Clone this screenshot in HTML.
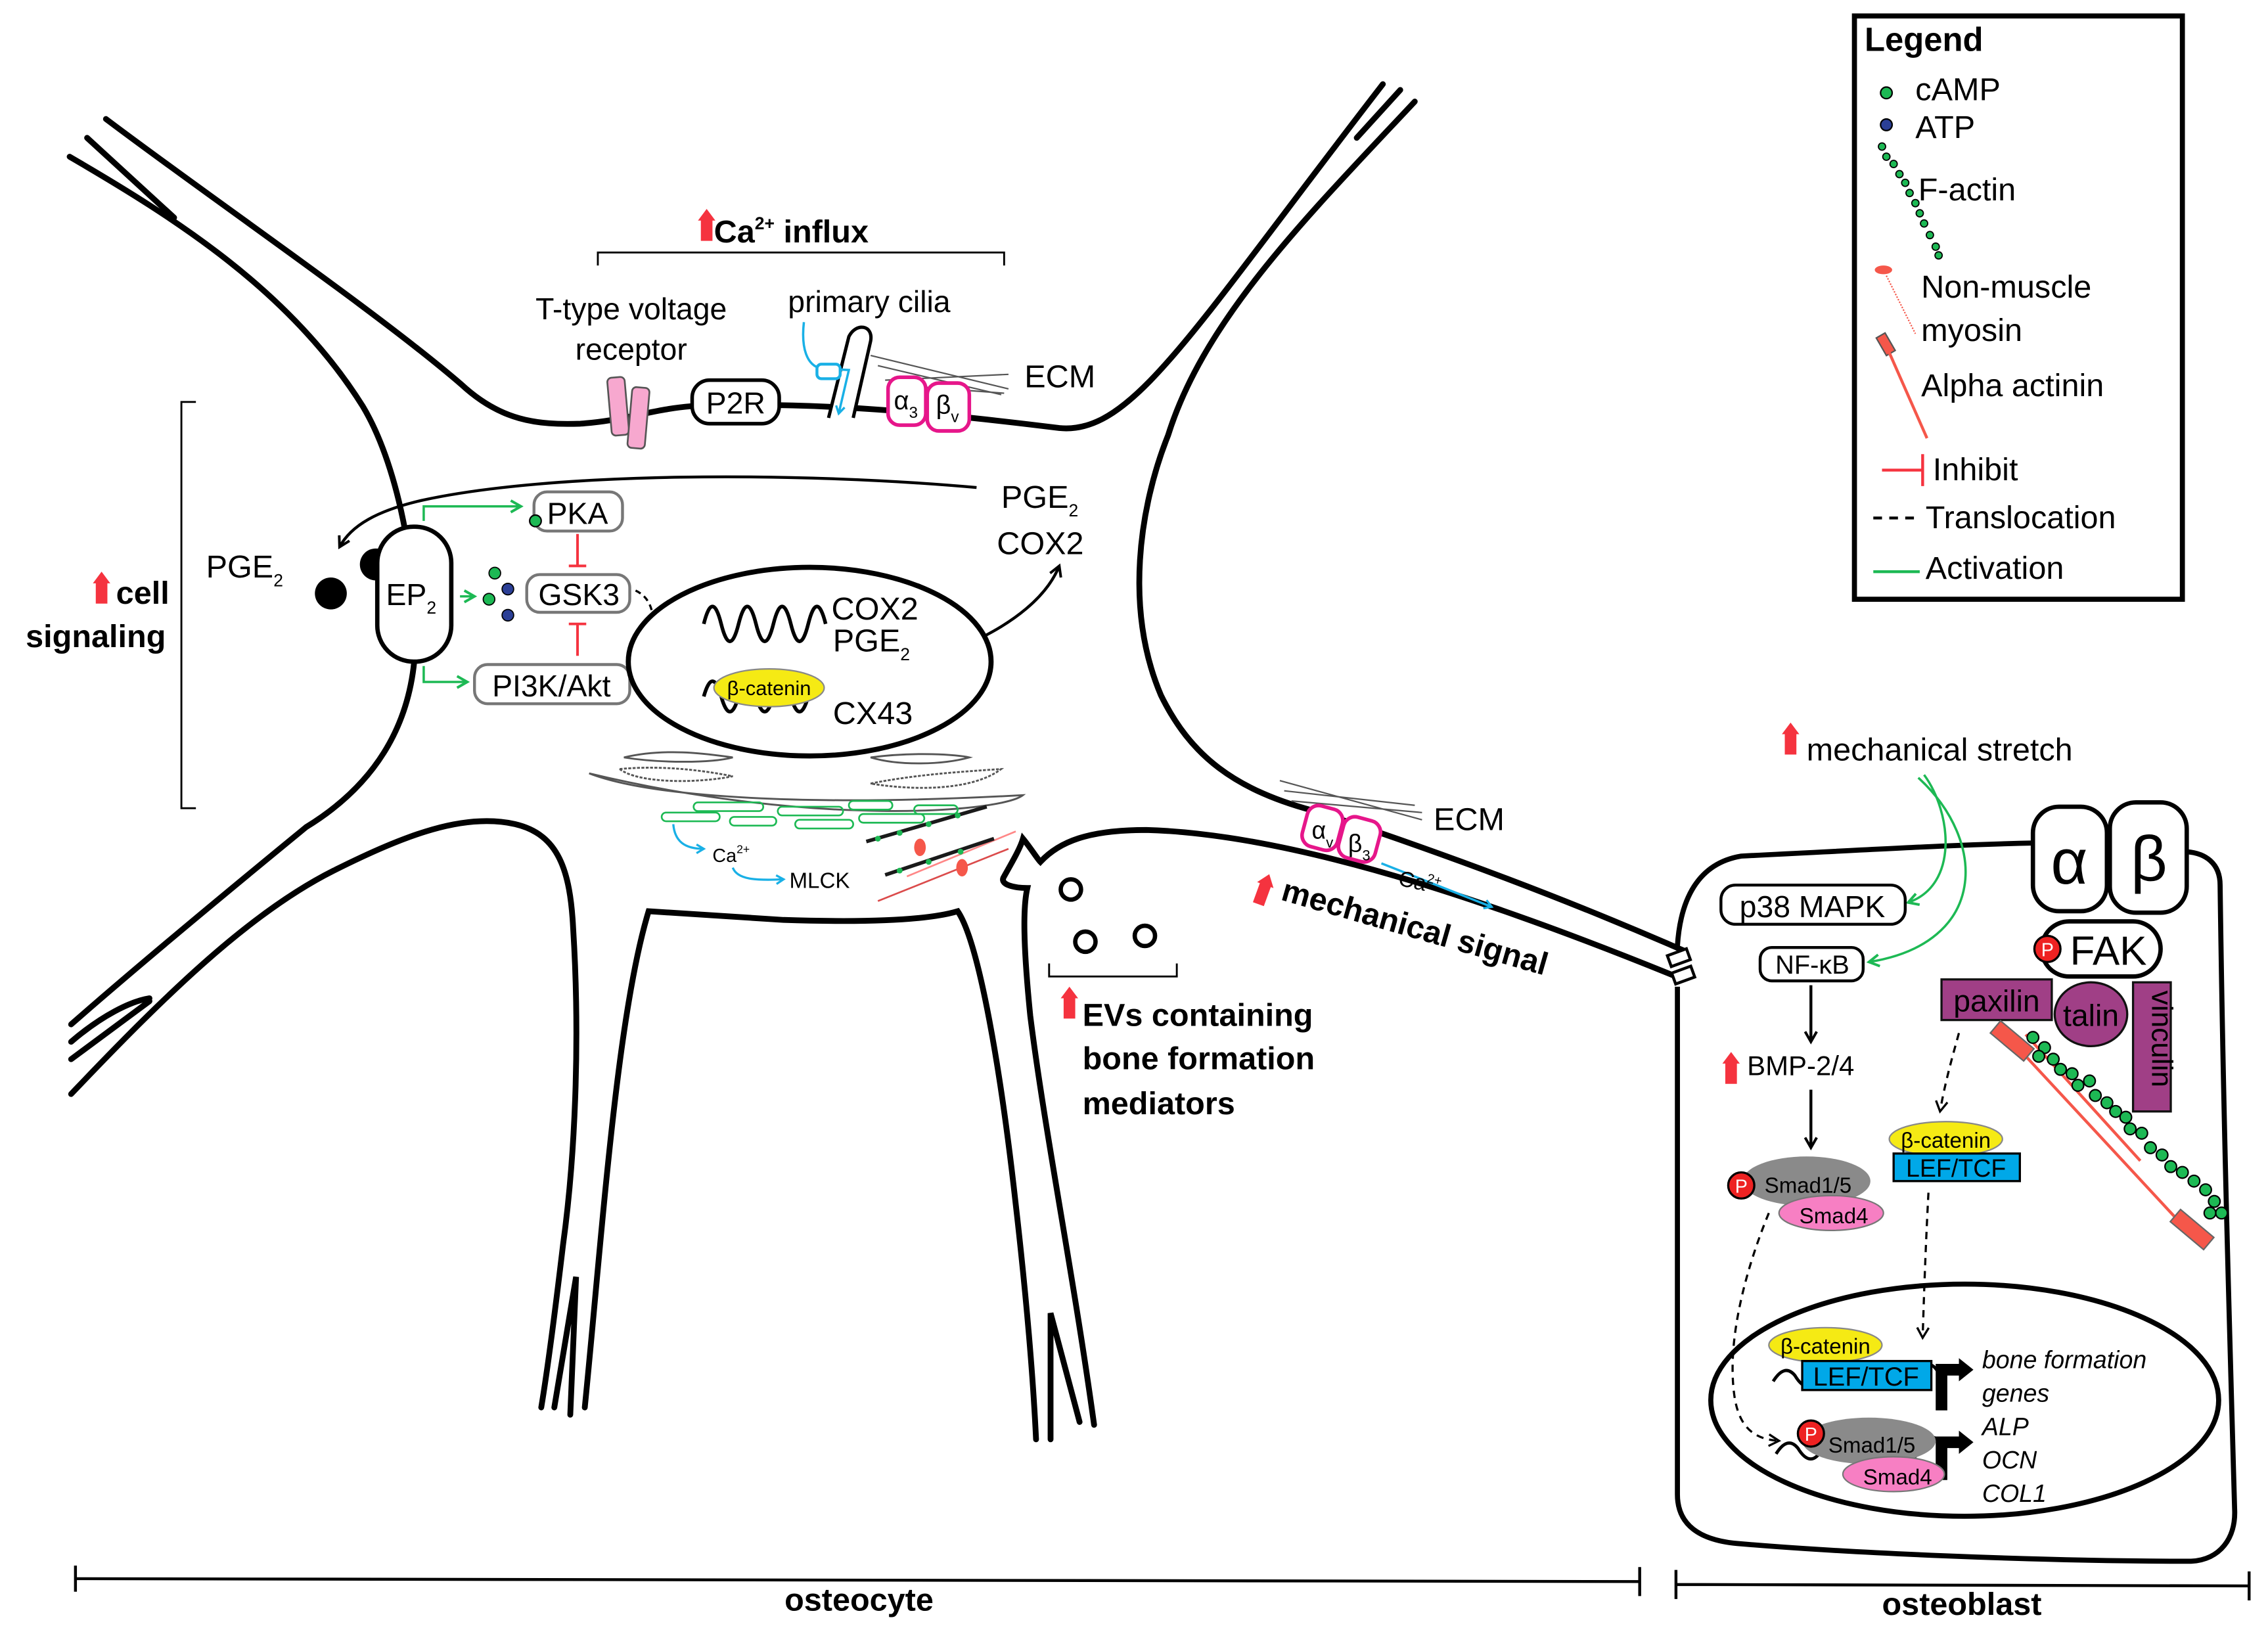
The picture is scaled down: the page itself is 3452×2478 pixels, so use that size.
<!DOCTYPE html>
<html><head><meta charset="utf-8"><style>
html,body{margin:0;padding:0;background:#fff}
svg{display:block}
text{font-family:"Liberation Sans",Arial,sans-serif;fill:#000}
.b{font-weight:bold}
.i{font-style:italic}
</style></head><body>
<svg width="3452" height="2478" viewBox="0 0 1563 1122" xmlns="http://www.w3.org/2000/svg">
<defs>
<marker id="ak" markerWidth="10" markerHeight="10" refX="8" refY="5" orient="auto" markerUnits="userSpaceOnUse"><path d="M1,1 L8,5 L1,9" fill="none" stroke="#000" stroke-width="1.8"/></marker>
<marker id="ag" markerWidth="10" markerHeight="10" refX="8" refY="5" orient="auto" markerUnits="userSpaceOnUse"><path d="M1,1 L8,5 L1,9" fill="none" stroke="#1db954" stroke-width="1.8"/></marker>
<marker id="ab" markerWidth="8" markerHeight="8" refX="6" refY="4" orient="auto" markerUnits="userSpaceOnUse"><path d="M1,1 L6,4 L1,7" fill="none" stroke="#19b0e6" stroke-width="1.5"/></marker>
<marker id="ad" markerWidth="10" markerHeight="10" refX="8" refY="5" orient="auto" markerUnits="userSpaceOnUse"><path d="M1,1 L8,5 L1,9" fill="none" stroke="#000" stroke-width="1.5"/></marker>
<g id="redup"><path d="M-4,14 L-4,0 L-6,0 L0,-8 L6,0 L4,0 L4,14 Z" fill="#f5333f"/></g>
</defs>

<!-- Osteocyte membranes -->
<g fill="none" stroke="#000" stroke-width="4" stroke-linecap="round">
<!-- top-left dendrite & top membrane -->
<path d="M73,82 C150,140 260,215 318,265 C345,290 370,293 400,292 C430,290 450,282 476,280 C560,276 650,285 730,295 C780,300 820,230 953,58"/>
<path d="M48,108 C120,150 200,200 250,280 C280,330 290,420 285,460 C280,500 260,540 211,570 C150,620 90,670 49,706"/>
<path d="M60,95 L120,150"/>
<path d="M49,754 C110,690 170,630 230,600 C280,575 320,560 355,568 C385,575 393,600 395,640 C400,720 396,800 388,858 C383,900 378,940 373,970"/>
<path d="M49,730 L103,690"/><path d="M49,718 C70,700 90,690 103,688"/>
<path d="M382,970 L397,880 L393,975"/>
<path d="M403,970 C415,850 425,700 447,628 L540,634 C600,636 640,634 660,628 C675,650 690,740 700,830 C708,900 712,950 714,992"/>
<path d="M724,992 L724,905 L744,980"/>
<path d="M754,982 C740,880 720,780 710,700 C705,650 705,625 708,612 C700,612 688,610 692,604 C697,595 703,585 705,578 C710,584 715,592 717,594 C730,580 750,572 790,572 C900,575 1050,630 1160,675"/>
<!-- top-right second line and right membrane -->
<path d="M975,70 C900,150 830,220 805,300 C785,350 775,420 800,479 C820,520 850,545 910,560 C1000,590 1080,620 1160,655"/>
<path d="M935,95 L965,62"/>
</g>
<!-- process junction -->
<g fill="#fff" stroke="#000" stroke-width="2"><rect x="1150" y="656" width="14" height="8" transform="rotate(-20 1157 660)"/><rect x="1153" y="668" width="14" height="8" transform="rotate(-20 1160 672)"/></g>

<!-- Ca influx -->
<use href="#redup" x="487" y="152"/>
<text x="492" y="167" class="b" font-size="22">Ca<tspan font-size="12" dy="-9">2+</tspan><tspan dy="9"> influx</tspan></text>
<path d="M412,183 L412,174 L692,174 L692,183" fill="none" stroke="#000" stroke-width="1.3"/>
<text x="435" y="220" font-size="21" text-anchor="middle">T-type voltage</text>
<text x="435" y="248" font-size="21" text-anchor="middle">receptor</text>
<text x="599" y="215" font-size="21" text-anchor="middle">primary cilia</text>
<g fill="#f7a8cf" stroke="#555" stroke-width="1.2"><rect x="420" y="260" width="12" height="40" rx="3" transform="rotate(-5 426 280)"/><rect x="434" y="267" width="12" height="42" rx="3" transform="rotate(5 440 288)"/></g>
<rect x="477" y="262" width="60" height="30" rx="12" fill="#fff" stroke="#000" stroke-width="2.5"/>
<text x="507" y="285" font-size="21" text-anchor="middle">P2R</text>
<path d="M571,288 L585,232 C590,222 602,224 600,235 L588,288" fill="#fff" stroke="#000" stroke-width="2.3"/>
<path d="M554,222 C552,240 556,252 566,254 L585,255 L578,285" fill="none" stroke="#19b0e6" stroke-width="1.6" marker-end="url(#ab)"/>
<rect x="563" y="251" width="16" height="10" rx="3" fill="#fff" stroke="#19b0e6" stroke-width="2"/>
<g stroke="#555" stroke-width="1"><path d="M600,245 L695,268"/><path d="M610,262 L695,258"/><path d="M612,265 L692,271"/><path d="M605,252 L690,272"/></g>
<rect x="612" y="260" width="26" height="33" rx="8" fill="#fff" stroke="#e6168a" stroke-width="2.5"/>
<rect x="639" y="264" width="29" height="33" rx="8" fill="#fff" stroke="#e6168a" stroke-width="2.5"/>
<text x="616" y="282" font-size="18">α<tspan font-size="11" dy="6">3</tspan></text>
<text x="645" y="285" font-size="18">β<tspan font-size="11" dy="6">v</tspan></text>
<text x="706" y="267" font-size="22">ECM</text>

<!-- cell signaling -->
<path d="M135,277 L125,277 L125,557 L135,557" fill="none" stroke="#000" stroke-width="1.3"/>
<use href="#redup" x="70" y="402"/>
<text x="80" y="416" class="b" font-size="22">cell</text>
<text x="66" y="446" class="b" font-size="22" text-anchor="middle">signaling</text>
<text x="142" y="398" font-size="22">PGE<tspan font-size="12" dy="6">2</tspan></text>
<circle cx="228" cy="409" r="11" fill="#000"/>
<circle cx="259" cy="389" r="11" fill="#000"/>
<rect x="260" y="363" width="51" height="93" rx="25" fill="#fff" stroke="#000" stroke-width="3"/>
<text x="266" y="417" font-size="21">EP<tspan font-size="12" dy="6">2</tspan></text>
<path d="M673,336 C550,325 380,325 290,345 C260,352 242,362 234,377" fill="none" stroke="#000" stroke-width="2" marker-end="url(#ak)"/>
<text x="690" y="350" font-size="22">PGE<tspan font-size="12" dy="6">2</tspan></text>
<text x="687" y="382" font-size="22">COX2</text>
<path d="M662,446 C700,430 722,410 730,390" fill="none" stroke="#000" stroke-width="2" marker-end="url(#ak)"/>
<g fill="none" stroke="#1db954" stroke-width="1.6">
<path d="M292,359 L292,349 L359,349" marker-end="url(#ag)"/>
<path d="M292,459 L292,470 L322,470" marker-end="url(#ag)"/>
<path d="M317,411 L327,411" marker-end="url(#ag)"/>
</g>
<rect x="368" y="339" width="61" height="27" rx="9" fill="#fff" stroke="#777" stroke-width="2"/>
<text x="398" y="361" font-size="21" text-anchor="middle">PKA</text>
<circle cx="369" cy="359" r="4" fill="#1db954" stroke="#000" stroke-width="1"/>
<rect x="363" y="396" width="71" height="26" rx="9" fill="#fff" stroke="#777" stroke-width="2"/>
<text x="399" y="417" font-size="21" text-anchor="middle">GSK3</text>
<rect x="327" y="458" width="107" height="27" rx="9" fill="#fff" stroke="#777" stroke-width="2"/>
<text x="380" y="480" font-size="21" text-anchor="middle">PI3K/Akt</text>
<g stroke="#f5333f" stroke-width="1.8"><path d="M398,368 L398,390 M392,390 L404,390"/><path d="M398,452 L398,430 M392,430 L404,430"/></g>
<circle cx="341" cy="395" r="4" fill="#1db954" stroke="#000" stroke-width=".8"/>
<circle cx="337" cy="413" r="4" fill="#1db954" stroke="#000" stroke-width=".8"/>
<circle cx="350" cy="406" r="4" fill="#2b3f96" stroke="#000" stroke-width=".8"/>
<circle cx="350" cy="424" r="4" fill="#2b3f96" stroke="#000" stroke-width=".8"/>
<path d="M438,407 C455,415 448,435 455,450 C460,462 468,466 476,467" fill="none" stroke="#000" stroke-width="1.5" stroke-dasharray="4,3" marker-end="url(#ad)"/>

<!-- osteocyte nucleus -->
<ellipse cx="558" cy="456" rx="125" ry="65" fill="#fff" stroke="#000" stroke-width="3.5"/>
<path d="M485,430 c4,-16 8,-16 12,0 c4,16 8,16 12,0 c4,-16 8,-16 12,0 c4,16 8,16 12,0 c4,-16 8,-16 12,0 c4,16 8,16 12,0 c4,-16 8,-16 12,0" fill="none" stroke="#000" stroke-width="2.5"/>
<path d="M485,480 c4,-14 8,-14 12,0 c4,14 8,14 12,0 c4,-14 8,-14 12,0 c4,14 8,14 12,0 c4,-14 8,-14 12,0 c4,14 8,14 12,0" fill="none" stroke="#000" stroke-width="2.5"/>
<text x="573" y="427" font-size="22">COX2</text>
<text x="574" y="449" font-size="22">PGE<tspan font-size="12" dy="6">2</tspan></text>
<ellipse cx="530" cy="474" rx="38" ry="13" fill="#f5ea14" stroke="#888" stroke-width="1"/>
<text x="530" y="479" font-size="14" text-anchor="middle">β-catenin</text>
<text x="574" y="499" font-size="22">CX43</text>

<!-- organelles -->
<g fill="none" stroke="#555" stroke-width="1.3">
<path d="M430,522 C460,515 490,520 505,522 C490,526 455,526 430,522Z"/>
<path d="M427,530 C460,527 490,532 505,535 C480,540 440,540 427,530Z" stroke-dasharray="2,1"/>
<path d="M406,533 C450,550 560,556 705,548 C690,560 560,570 406,533Z"/>
<path d="M600,522 C630,518 660,520 668,522 C650,527 620,528 600,522Z"/>
<path d="M600,540 C630,534 660,532 690,530 C670,545 630,545 600,540Z" stroke-dasharray="2,1"/>
</g>
<g fill="none" stroke="#1db954" stroke-width="1.2">
<rect x="456" y="560" width="40" height="6" rx="3"/><rect x="478" y="553" width="48" height="6" rx="3"/><rect x="503" y="563" width="32" height="6" rx="3"/>
<rect x="536" y="556" width="45" height="6" rx="3"/><rect x="548" y="565" width="40" height="6" rx="3"/><rect x="585" y="552" width="30" height="6" rx="3"/><rect x="592" y="561" width="45" height="6" rx="3"/><rect x="630" y="555" width="30" height="6" rx="3"/>
</g>
<path d="M464,568 C465,580 472,585 485,585" fill="none" stroke="#19b0e6" stroke-width="1.5" marker-end="url(#ab)"/>
<text x="491" y="594" font-size="13">Ca<tspan font-size="8" dy="-6">2+</tspan></text>
<path d="M505,598 C508,606 520,607 540,606" fill="none" stroke="#19b0e6" stroke-width="1.5" marker-end="url(#ab)"/>
<text x="544" y="612" font-size="15">MLCK</text>
<g stroke="#c00" stroke-width="1.2" opacity=".7"><path d="M605,621 L695,585"/><path d="M625,604 L700,573" stroke="#f55"/></g>
<g stroke="#1a1a1a" stroke-width="2.5"><path d="M597,580 L680,556"/><path d="M610,603 L685,578"/></g>
<g fill="#1db954"><circle cx="605" cy="578" r="2"/><circle cx="620" cy="574" r="2"/><circle cx="640" cy="568" r="2"/><circle cx="660" cy="562" r="2"/><circle cx="620" cy="600" r="2"/><circle cx="640" cy="594" r="2"/><circle cx="662" cy="587" r="2"/></g>
<g fill="#f5574a"><ellipse cx="634" cy="584" rx="4" ry="6"/><ellipse cx="663" cy="598" rx="4" ry="6"/></g>

<!-- EVs -->
<g fill="#fff" stroke="#000" stroke-width="3"><circle cx="738" cy="613" r="7"/><circle cx="748" cy="649" r="7"/><circle cx="789" cy="645" r="7"/></g>
<path d="M723,664 L723,673 L811,673 L811,664" fill="none" stroke="#000" stroke-width="1.3"/>
<use href="#redup" x="737" y="688"/>
<text x="746" y="707" class="b" font-size="22">EVs containing</text>
<text x="746" y="737" class="b" font-size="22">bone formation</text>
<text x="746" y="768" class="b" font-size="22">mediators</text>

<!-- mechanical process -->
<g stroke="#555" stroke-width="1"><path d="M882,538 L980,565"/><path d="M885,545 L975,555"/><path d="M890,552 L980,560"/></g>
<rect x="899" y="556" width="25" height="29" rx="8" fill="#fff" stroke="#e6168a" stroke-width="2.5" transform="rotate(15 911 570)"/>
<rect x="924" y="564" width="26" height="29" rx="8" fill="#fff" stroke="#e6168a" stroke-width="2.5" transform="rotate(15 937 578)"/>
<text x="904" y="578" font-size="17">α<tspan font-size="10" dy="6">v</tspan></text>
<text x="929" y="587" font-size="17">β<tspan font-size="10" dy="6">3</tspan></text>
<text x="988" y="572" font-size="22">ECM</text>
<path d="M952,595 L1028,625" fill="none" stroke="#19b0e6" stroke-width="1.6" marker-end="url(#ab)"/>
<text x="963" y="610" font-size="15" transform="rotate(12 963 610)">Ca<tspan font-size="9" dy="-6">2+</tspan></text>
<g transform="rotate(20 872 610)"><use href="#redup" x="872" y="610"/></g>
<text x="882" y="620" class="b" font-size="22" transform="rotate(16 882 620)">mechanical signal</text>

<!-- Osteoblast -->
<path d="M1156,652 C1158,620 1170,595 1200,590 C1300,585 1350,582 1402,581 M1507,587 C1520,588 1530,595 1530,610 C1532,760 1536,900 1540,1040 C1541,1060 1530,1075 1510,1076 C1400,1076 1270,1070 1200,1064 C1170,1062 1156,1050 1156,1030 L1156,680" fill="none" stroke="#000" stroke-width="3.5"/>
<use href="#redup" x="1234" y="506"/>
<text x="1245" y="524" font-size="22">mechanical stretch</text>
<path d="M1326,534 C1345,560 1350,610 1315,622" fill="none" stroke="#1db954" stroke-width="1.6" marker-end="url(#ag)"/>
<path d="M1322,536 C1370,580 1370,650 1288,663" fill="none" stroke="#1db954" stroke-width="1.6" marker-end="url(#ag)"/>
<rect x="1186" y="610" width="127" height="27" rx="10" fill="#fff" stroke="#000" stroke-width="2"/>
<text x="1249" y="632" font-size="21" text-anchor="middle">p38 MAPK</text>
<rect x="1213" y="653" width="71" height="23" rx="8" fill="#fff" stroke="#000" stroke-width="2"/>
<text x="1249" y="671" font-size="18" text-anchor="middle">NF-κB</text>
<path d="M1248,679 L1248,718" stroke="#000" stroke-width="2" marker-end="url(#ak)"/>
<use href="#redup" x="1193" y="733"/>
<text x="1204" y="741" font-size="19">BMP-2/4</text>
<path d="M1248,751 L1248,791" stroke="#000" stroke-width="2" marker-end="url(#ak)"/>
<ellipse cx="1245" cy="814" rx="44" ry="17" fill="#8a8a8a"/>
<ellipse cx="1262" cy="836" rx="36" ry="12" fill="#f77fc3" stroke="#777" stroke-width="1"/>
<circle cx="1200" cy="817" r="9" fill="#ee2222" stroke="#000" stroke-width="1.5"/>
<text x="1200" y="822" font-size="13" fill="#fff" text-anchor="middle" style="fill:#fff">P</text>
<text x="1216" y="822" font-size="15">Smad1/5</text>
<text x="1240" y="843" font-size="15">Smad4</text>
<path d="M1219,836 C1205,870 1190,920 1195,960 C1198,985 1210,992 1226,993" fill="none" stroke="#000" stroke-width="1.5" stroke-dasharray="5,4" marker-end="url(#ad)"/>

<!-- integrin complex -->
<rect x="1401" y="556" width="51" height="72" rx="18" fill="#fff" stroke="#000" stroke-width="3"/>
<rect x="1454" y="553" width="53" height="76" rx="18" fill="#fff" stroke="#000" stroke-width="3"/>
<text x="1426" y="609" font-size="44" text-anchor="middle">α</text>
<text x="1481" y="607" font-size="44" text-anchor="middle">β</text>
<rect x="1407" y="635" width="82" height="38" rx="19" fill="#fff" stroke="#000" stroke-width="3"/>
<text x="1453" y="665" font-size="28" text-anchor="middle">FAK</text>
<circle cx="1411" cy="654" r="9" fill="#ee2222" stroke="#000" stroke-width="1.5"/>
<text x="1411" y="659" font-size="13" text-anchor="middle" style="fill:#fff">P</text>
<rect x="1338" y="675" width="76" height="28" fill="#a03f86" stroke="#111" stroke-width="1.5"/>
<text x="1376" y="697" font-size="21" text-anchor="middle">paxilin</text>
<rect x="1470" y="677" width="26" height="89" fill="#a03f86" stroke="#111" stroke-width="1.5"/>
<text x="1477" y="722" font-size="20" text-anchor="middle" transform="rotate(90 1483 722)">vinculin</text>
<ellipse cx="1441" cy="699" rx="25" ry="22" fill="#a03f86" stroke="#111" stroke-width="1.5"/>
<text x="1441" y="707" font-size="21" text-anchor="middle">talin</text>
<g stroke="#f5574a" stroke-width="2"><path d="M1385,716 L1500,840"/><path d="M1396,713 L1475,800"/></g>
<rect x="1372" y="712" width="30" height="11" fill="#f5574a" stroke="#666" transform="rotate(40 1387 717)"/>
<rect x="1496" y="842" width="30" height="11" fill="#f5574a" stroke="#666" transform="rotate(40 1511 847)"/>
<g fill="#1db954" stroke="#000" stroke-width="1">
<circle cx="1401" cy="715" r="4"/><circle cx="1409" cy="722" r="4"/><circle cx="1405" cy="728" r="4"/><circle cx="1415" cy="730" r="4"/><circle cx="1420" cy="737" r="4"/><circle cx="1428" cy="740" r="4"/><circle cx="1432" cy="748" r="4"/><circle cx="1440" cy="745" r="4"/><circle cx="1444" cy="755" r="4"/><circle cx="1452" cy="760" r="4"/><circle cx="1458" cy="766" r="4"/><circle cx="1465" cy="770" r="4"/><circle cx="1468" cy="778" r="4"/><circle cx="1476" cy="781" r="4"/><circle cx="1482" cy="791" r="4"/><circle cx="1490" cy="796" r="4"/><circle cx="1496" cy="804" r="4"/><circle cx="1504" cy="808" r="4"/><circle cx="1512" cy="814" r="4"/><circle cx="1520" cy="820" r="4"/><circle cx="1526" cy="828" r="4"/><circle cx="1531" cy="836" r="4"/><circle cx="1523" cy="836" r="4"/>
</g>
<path d="M1350,712 C1345,730 1340,748 1337,766" fill="none" stroke="#000" stroke-width="1.5" stroke-dasharray="5,4" marker-end="url(#ad)"/>
<ellipse cx="1341" cy="785" rx="39" ry="12" fill="#f5ea14" stroke="#888" stroke-width="1"/>
<text x="1341" y="791" font-size="15" text-anchor="middle">β-catenin</text>
<rect x="1305" y="795" width="87" height="19" fill="#00a8e8" stroke="#000" stroke-width="1.5"/>
<text x="1348" y="811" font-size="17" text-anchor="middle">LEF/TCF</text>
<path d="M1329,822 C1327,860 1326,890 1325,922" fill="none" stroke="#000" stroke-width="1.5" stroke-dasharray="5,4" marker-end="url(#ad)"/>

<!-- osteoblast nucleus -->
<ellipse cx="1354" cy="965" rx="175" ry="80" fill="none" stroke="#000" stroke-width="3.5"/>
<path d="M1222,952 c5,-8 10,-10 15,-4 c6,10 12,10 17,0 c5,-10 12,-10 17,0 c5,10 12,10 17,0 c5,-10 12,-10 17,0 c5,10 12,10 17,0 c5,-10 10,-10 15,0" fill="none" stroke="#000" stroke-width="2.2"/>
<path d="M1224,1002 c5,-8 10,-10 15,-4 c6,10 12,10 17,0 c5,-10 12,-10 17,0 c5,10 12,10 17,0 c5,-10 12,-10 17,0 c5,10 12,10 17,0 c5,-10 10,-10 15,0" fill="none" stroke="#000" stroke-width="2.2"/>
<ellipse cx="1258" cy="927" rx="39" ry="12" fill="#f5ea14" stroke="#888" stroke-width="1"/>
<text x="1258" y="933" font-size="15" text-anchor="middle">β-catenin</text>
<rect x="1242" y="938" width="89" height="20" fill="#00a8e8" stroke="#000" stroke-width="1.5"/>
<text x="1286" y="955" font-size="18" text-anchor="middle">LEF/TCF</text>
<path d="M1334,972 L1334,940 L1350,940 L1350,936 L1360,944 L1350,952 L1350,948 L1342,948 L1342,972Z" fill="#000"/>
<path d="M1334,1020 L1334,990 L1350,990 L1350,986 L1360,994 L1350,1002 L1350,998 L1342,998 L1342,1020Z" fill="#000"/>
<ellipse cx="1288" cy="993" rx="46" ry="16" fill="#8a8a8a"/>
<ellipse cx="1305" cy="1016" rx="35" ry="12" fill="#f77fc3" stroke="#777" stroke-width="1"/>
<circle cx="1248" cy="988" r="9" fill="#ee2222" stroke="#000" stroke-width="1.5"/>
<text x="1248" y="993" font-size="13" text-anchor="middle" style="fill:#fff">P</text>
<text x="1260" y="1001" font-size="15">Smad1/5</text>
<text x="1284" y="1023" font-size="15">Smad4</text>
<g class="i" font-size="17"><text x="1366" y="943" class="i">bone formation</text><text x="1366" y="966" class="i">genes</text><text x="1366" y="989" class="i">ALP</text><text x="1366" y="1012" class="i">OCN</text><text x="1366" y="1035" class="i">COL1</text></g>

<!-- Legend -->
<rect x="1278" y="11" width="226" height="402" fill="#fff" stroke="#000" stroke-width="3.5"/>
<text x="1285" y="35" class="b" font-size="23">Legend</text>
<circle cx="1300" cy="64" r="4" fill="#1db954" stroke="#000" stroke-width="1"/>
<text x="1320" y="69" font-size="22">cAMP</text>
<circle cx="1300" cy="86" r="4" fill="#2b3f96" stroke="#000" stroke-width="1"/>
<text x="1320" y="95" font-size="22">ATP</text>
<g fill="#1db954" stroke="#000" stroke-width=".8"><circle cx="1297" cy="101" r="2.5"/><circle cx="1300" cy="108" r="2.5"/><circle cx="1305" cy="113" r="2.5"/><circle cx="1309" cy="120" r="2.5"/><circle cx="1313" cy="126" r="2.5"/><circle cx="1316" cy="133" r="2.5"/><circle cx="1320" cy="140" r="2.5"/><circle cx="1323" cy="147" r="2.5"/><circle cx="1326" cy="154" r="2.5"/><circle cx="1330" cy="162" r="2.5"/><circle cx="1334" cy="170" r="2.5"/><circle cx="1336" cy="176" r="2.5"/></g>
<text x="1322" y="138" font-size="22">F-actin</text>
<ellipse cx="1298" cy="186" rx="6" ry="3" fill="#f5574a"/><path d="M1300,190 L1320,230" stroke="#f5574a" stroke-width="1" stroke-dasharray="1,1"/>
<text x="1324" y="205" font-size="22">Non-muscle</text>
<text x="1324" y="235" font-size="22">myosin</text>
<rect x="1296" y="230" width="7" height="14" fill="#f5574a" stroke="#555" transform="rotate(-30 1300 237)"/>
<path d="M1302,243 L1328,302" stroke="#f5574a" stroke-width="2"/>
<text x="1324" y="273" font-size="22">Alpha actinin</text>
<path d="M1297,324 L1325,324 M1325,313 L1325,335" stroke="#f5333f" stroke-width="2"/>
<text x="1332" y="331" font-size="22">Inhibit</text>
<path d="M1291,357 L1323,357" stroke="#000" stroke-width="2" stroke-dasharray="6,5"/>
<text x="1327" y="364" font-size="22">Translocation</text>
<path d="M1291,394 L1323,394" stroke="#1db954" stroke-width="2"/>
<text x="1327" y="399" font-size="22">Activation</text>

<!-- scale bars -->
<path d="M52,1079 L52,1097 M52,1088 L1130,1090 M1130,1080 L1130,1100" stroke="#000" stroke-width="2" fill="none"/>
<text x="592" y="1110" class="b" font-size="22" text-anchor="middle">osteocyte</text>
<path d="M1155,1082 L1155,1102 M1155,1092 L1550,1093 M1550,1083 L1550,1103" stroke="#000" stroke-width="2" fill="none"/>
<text x="1352" y="1113" class="b" font-size="22" text-anchor="middle">osteoblast</text>
</svg>
</body></html>
